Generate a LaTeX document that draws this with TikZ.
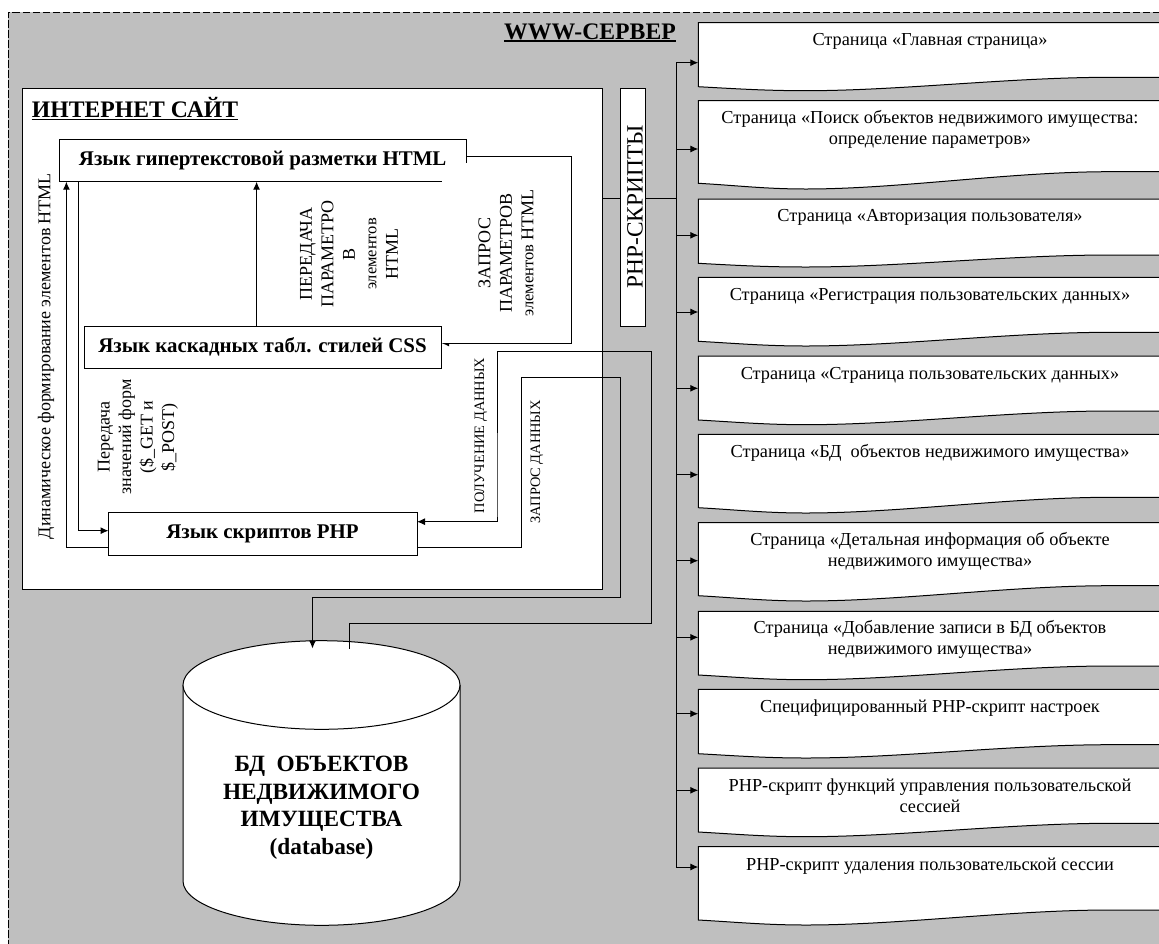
\documentclass[tikz,border=0pt]{standalone}
\usepackage{fontspec}
\setmainfont{Liberation Serif}
\usetikzlibrary{arrows.meta}
\definecolor{srvgrey}{HTML}{BFBFBF}
\tikzset{
  line/.style={draw=black,line width=1pt},
  conn/.style={line,-{Latex[length=8pt,width=7pt]}},
  boxnode/.style={line,fill=white,rectangle,inner sep=0pt,outer sep=0pt},
  boxtext/.style={inner sep=0pt,font=\fontsize{20.9}{24}\selectfont\bfseries},
  pagetext/.style={inner sep=0pt,align=center,font=\fontsize{18.3}{21}\selectfont},
  vtext/.style={rotate=90,inner sep=0pt,align=center,font=\fontsize{18}{21.5}\selectfont},
  vsmall/.style={rotate=90,inner sep=0pt,align=center,font=\fontsize{14.4}{21}\selectfont},
  heading/.style={inner sep=0pt,font=\fontsize{23.7}{26}\selectfont\bfseries},
}
\newcommand{\pagebox}[8]{%
  \draw[line,fill=white] (698.3,#2) -- (1170,#2) -- (1170,#5) -- (1110,#5)
     .. controls (1010,#5) and (900,#4) .. (806,#4)
     .. controls (765,#4) and (735,#3+2) .. (698.3,#3) -- cycle;
  \coordinate (a#1) at (698.3,#6);
  \node[pagetext] (p#1) at (930,#7+1.5) {#8};
  \draw[conn] (bus |- a#1) -- (a#1);
}
\begin{document}
\begin{tikzpicture}[x=1pt,y=-1pt]
\useasboundingbox (0,0) rectangle (1159,943);
\clip (0,0) rectangle (1159,943);
\fill[srvgrey] (8,12) rectangle (1170,950);
\draw[line,dash pattern=on 7.5pt off 2.5pt] (1170,12) -- (8,12) -- (8,950);
\node[heading] (www) at (590,31.5) {WWW-СЕРВЕР};
\draw[line width=1.8pt] ([yshift=-1.5pt]www.south west) -- ([yshift=-1.5pt]www.south east);
% site
\node[boxnode,minimum width=579.5pt,minimum height=501pt,anchor=north west] (site) at (22.5,88) {};
\node[heading] (sitet) at (135,107.5) {ИНТЕРНЕТ САЙТ};
\draw[line width=1.8pt] ([yshift=-1.5pt]sitet.south west) -- ([yshift=-1.5pt]sitet.south east);
% language boxes
\node[boxnode,minimum width=407.3pt,minimum height=42.4pt,anchor=north west] (html) at (59.3,139.3) {};
\node[boxnode,minimum width=357pt,minimum height=42pt,anchor=north west] (css) at (84,326) {};
\node[boxtext] (csst) at (262.5,346.5) {Язык каскадных табл. стилей CSS};
\node[boxnode,minimum width=308.5pt,minimum height=42.6pt,anchor=north west] (php) at (108.5,512.7) {};
\node[boxtext] (phpt) at (262.5,534.2) {Язык скриптов PHP};
% connectors inside the site
\coordinate (hq) at (571,156);
\coordinate (cq) at (571,343);
\draw[conn] (html.east |- hq) -- (hq) -- (cq) -- (css.east |- cq);
\fill[white] (441.6,163) rectangle (560,342.8);
\draw[line] (cq) -- ([xshift=4pt]css.east |- cq);
\node[boxtext] (htmlt) at (262.7,160.5) {Язык гипертекстовой разметки HTML};
\draw[conn] (256.6,326) -- (256.6,181.7);
\draw[conn] ([xshift=18.7pt]html.south west) |- ([yshift=3.3pt]php.west);
\draw[conn] ([yshift=-13pt]php.west) -| ([xshift=7.1pt]html.south west);
\coordinate (ga) at (497,351.7);
\coordinate (gb) at (651,623.3);
\coordinate (gc) at (349,649.3);
\draw[conn] (gc) -- (gc |- gb) -- (gb) -- (gb |- ga) -- (ga) -- (ga |- php.north) -- ++(0,9) -- ([yshift=12.3pt]php.east);
\coordinate (ra) at (521.4,377.3);
\coordinate (rb) at (620.5,597.7);
\coordinate (rc) at (312.5,648.5);
\draw[conn] ([yshift=-13pt]php.east) -| (ra) -- (rb |- ra) -- (rb) -- (rc |- rb) -- (rc);
% rotated labels
\node[vtext] (l1) at (46,356) {Динамическое формирование элементов HTML};
\node[vtext] (l2) at (138,437) {Передача\\значений форм\\(\$\_GET и\\\$\_POST)};
\node[vtext] (l3) at (349,254) {ПЕРЕДАЧА\\ПАРАМЕТРО\\В\\{\fontsize{16.5}{21.5}\selectfont элементов}\\HTML};
\node[vtext] (l4) at (506,253) {ЗАПРОС\\ПАРАМЕТРОВ\\{\fontsize{16.5}{21.5}\selectfont элементов} HTML};
\node[vsmall] (l5) at (481,435.5) {ПОЛУЧЕНИЕ ДАННЫХ};
\node[vsmall] (l6) at (537,462) {ЗАПРОС ДАННЫХ};
% bus
\coordinate (bus) at (676,62.7);
\coordinate (busj) at (676,198.7);
\draw[line] (busj -| site.east) -- (busj);
\draw[line] (bus) -- (676,867);
\node[boxnode,minimum width=24.5pt,minimum height=238pt,anchor=north west] (scr) at (620.5,88) {};
\node[rotate=90,inner sep=0pt,font=\fontsize{23.3}{26}\selectfont] (scrt) at (635,206.7) {PHP-СКРИПТЫ};
% pages
\pagebox{1}{22.7}{86.7}{90.7}{77.3}{62.7}{40}{Страница «Главная страница»}
\pagebox{2}{100.7}{183.3}{189}{171.7}{149}{128.3}{Страница «Поиск объектов недвижимого имущества:\\определение параметров»}
\pagebox{3}{199}{263.3}{267}{255}{235.3}{215.7}{Страница «Авторизация пользователя»}
\pagebox{4}{277.3}{341.3}{346}{332.3}{312}{295}{Страница «Регистрация пользовательских данных»}
\pagebox{5}{356}{420}{424.7}{411}{388.3}{374}{Страница «Страница пользовательских данных»}
\pagebox{6}{434.3}{507.7}{513}{497.3}{474.7}{451.7}{Страница «БД~ объектов недвижимого имущества»}
\pagebox{7}{522.7}{595.7}{601}{585.7}{560.7}{550.3}{Страница «Детальная информация об объекте\\недвижимого имущества»}
\pagebox{8}{611.3}{675}{679.7}{666}{637.3}{638.3}{Страница «Добавление записи в БД объектов\\недвижимого имущества»}
\pagebox{9}{689.3}{753.7}{758}{744.7}{713.7}{706.7}{Специфицированный PHP-скрипт настроек}
\pagebox{10}{768}{832}{836.7}{823.3}{790.3}{794.5}{PHP-скрипт функций управления пользовательской\\сессией}
\pagebox{11}{846.7}{920}{925}{910}{867}{865}{PHP-скрипт удаления пользовательской сессии}
% database
\coordinate (dbl) at (183,685);
\coordinate (dbr) at (460,685);
\draw[line,fill=white] (dbl) -- (183,881) .. controls (183,905.4) and (245,925.3) .. (321.5,925.3) .. controls (398,925.3) and (460,905.4) .. (460,881) -- (dbr);
\draw[line,fill=white] (321.5,685) ellipse [x radius=138.5, y radius=44.3];
\node[inner sep=0pt,align=center,font=\fontsize{23.3}{27.5}\selectfont\bfseries] (db) at (321.5,808) {БД~ ОБЪЕКТОВ\\НЕДВИЖИМОГО\\ИМУЩЕСТВА\\(database)};
\draw[conn] (rb -| rc) -- (rc);
\draw[line] (gc |- gb) -- (gc);
\end{tikzpicture}
\end{document}
